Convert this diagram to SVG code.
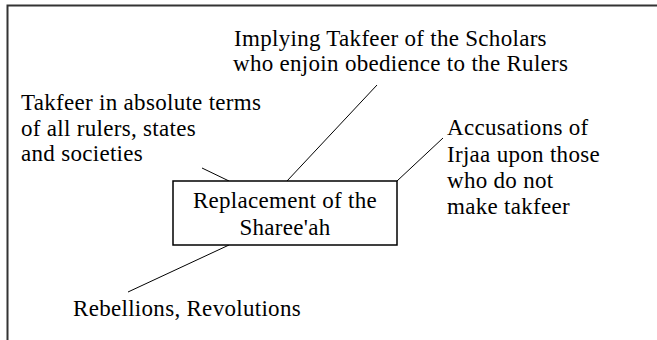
<svg xmlns="http://www.w3.org/2000/svg" width="657" height="340" viewBox="0 0 657 340">
<style>
text{font-family:'Liberation Serif','Times New Roman',serif;font-size:23px;fill:#000;letter-spacing:0.3px}
.c{text-anchor:middle}
.ln{stroke:#000;stroke-width:1;fill:none}
</style>
<rect width="657" height="340" fill="#fff"/>
<g id="frame">
<path d="M7.5,340 V5.5 H657" fill="none" stroke="#333" stroke-width="2"/>
</g>
<g id="connectors">
<line class="ln" x1="287" y1="181" x2="377" y2="85"/>
<line class="ln" x1="202" y1="168" x2="229" y2="181"/>
<line class="ln" x1="397" y1="181" x2="443" y2="138"/>
<line class="ln" x1="229" y1="245" x2="128" y2="292"/>
</g>
<g id="center">
<rect x="173" y="181" width="224" height="64" fill="#fff" stroke="#000" stroke-width="1.5"/>
<text class="c" x="285" y="208">Replacement of the</text>
<text class="c" x="285" y="235">Sharee'ah</text>
</g>
<g id="implying">
<text x="234" y="46">Implying Takfeer of the Scholars</text>
<text x="233" y="71">who enjoin obedience to the Rulers</text>
</g>
<g id="takfeer">
<text x="21" y="110">Takfeer in absolute terms</text>
<text x="21" y="135.5">of all rulers, states</text>
<text x="21" y="161">and societies</text>
</g>
<g id="accusations">
<text x="447" y="135">Accusations of</text>
<text x="447" y="161.5">Irjaa upon those</text>
<text x="447" y="188">who do not</text>
<text x="447" y="214">make takfeer</text>
</g>
<g id="rebellions">
<text x="73" y="315.5">Rebellions, Revolutions</text>
</g>
</svg>
